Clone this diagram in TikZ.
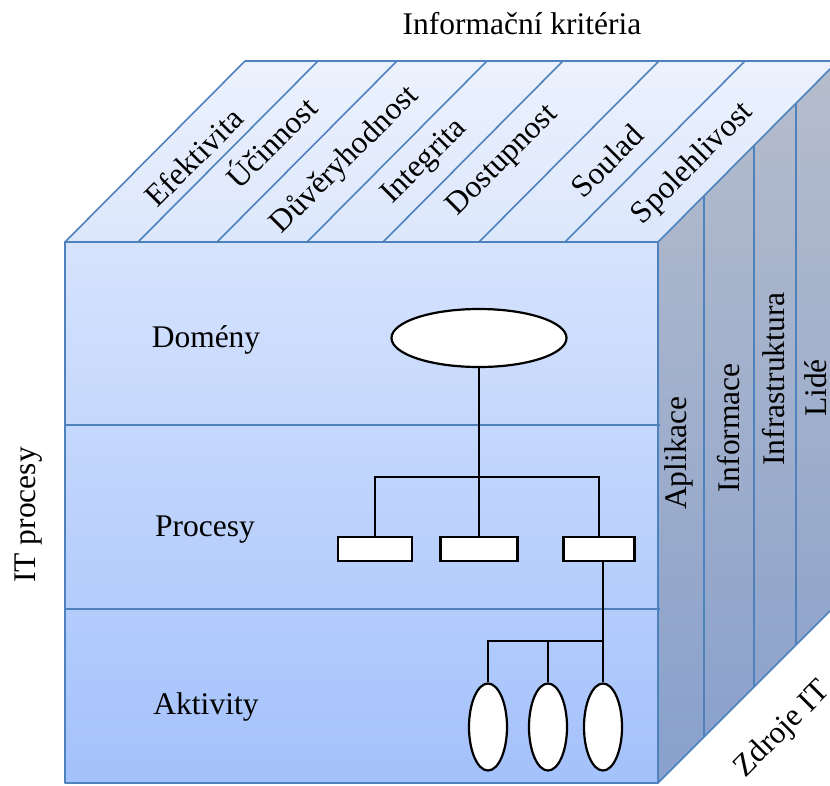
\documentclass[tikz,border=0pt]{standalone}
\usepackage{fontspec}
\setmainfont{Liberation Serif}
\usetikzlibrary{shapes.geometric}

\definecolor{edgeblue}{RGB}{79,129,189}
\definecolor{fronttop}{RGB}{214,227,253}
\definecolor{frontbot}{RGB}{163,193,251}
\definecolor{sidetop}{RGB}{182,189,204}
\definecolor{sidebot}{RGB}{136,160,204}
\definecolor{lidtop}{RGB}{236,242,253}
\definecolor{lidbot}{RGB}{220,231,252}

\tikzset{
	face/.style = {draw=edgeblue, line width=1.6pt, line join=round},
	divider/.style = {draw=edgeblue, line width=1.6pt},
	lbl/.style = {inner sep=0pt, font=\fontsize{31.5}{36}\selectfont},
	leaf/.style = {draw, line width=2.2pt, fill=white},
	link/.style = {draw, line width=1.8pt}
}

\begin{document}
\begin{tikzpicture}[x=1pt,y=-1pt]
\useasboundingbox (0,0) rectangle (830,785);
\clip (0,0) rectangle (830,785);
%
	% faces of the cube
	\fill[top color=fronttop, bottom color=frontbot] (65,242) rectangle (658,783);
	\fill[top color=lidtop, bottom color=lidbot] (65,242) -- (245,61) -- (838,61) -- (658,242) -- cycle;
	\fill[top color=sidetop, bottom color=sidebot] (658,242) -- (838,61) -- (838,603) -- (658,783) -- cycle;
	\draw[face] (65,242) rectangle (658,783);
	\draw[face] (65,242) -- (245,61) -- (838,61) -- (658,242);
	\draw[face] (838,61) -- (838,603) -- (658,783);
%
	% layers on the front
	\draw[divider] (65,425) -- (660,425);
	\draw[divider] (65,609) -- (660,609);
%
	% strips on the top
	\foreach \xb in {138,217,307,383,479,565}
		\draw[divider] (\xb,242) -- (\xb+180,61);
%
	% strips on the side
	\draw[divider] (704,196) -- (704,737);
	\draw[divider] (754,146) -- (754,687);
	\draw[divider] (796,104) -- (796,645);
%
	\node[lbl] (title) at (522,24) {Informační kritéria};
	\node[lbl, rotate=45] (efe) at (194,157) {Efektivita};
	\node[lbl, rotate=45] (uci) at (270,141) {Účinnost};
	\node[lbl, rotate=45] (duv) at (345,160) {Důvěryhodnost};
	\node[lbl, rotate=45] (int) at (425,162) {Integrita};
	\node[lbl, rotate=45] (dos) at (503,161) {Dostupnost};
	\node[lbl, rotate=45] (sou) at (607,161) {Soulad};
	\node[lbl, rotate=45] (spo) at (693,164) {Spolehlivost};
%
	\node[lbl, rotate=90] (apl) at (679,453) {Aplikace};
	\node[lbl, rotate=90] (inf) at (729,428) {Informace};
	\node[lbl, rotate=90] (ifs) at (774,379) {Infrastruktura};
	\node[lbl, rotate=90] (lid) at (816,388) {Lidé};
	\node[lbl, rotate=45] (zdr) at (783,730) {Zdroje IT};
	\node[lbl, rotate=90] (itp) at (29,515) {IT procesy};
%
	\node[lbl] (ldom) at (206,340) {Domény};
	\node[lbl] (lpro) at (205,530) {Procesy};
	\node[lbl] (lakt) at (206,707) {Aktivity};
%
	% hierarchy
	\node[leaf, ellipse, minimum width=175pt, minimum height=58pt] (dom) at (479,338) {};
	\node[leaf, rectangle, minimum width=74pt, minimum height=24pt] (p1) at (375,549) {};
	\node[leaf, rectangle, minimum width=77pt, minimum height=24pt] (p2) at (479,549) {};
	\node[leaf, rectangle, minimum width=71pt, minimum height=24pt] (p3) at (599,549) {};
	\node[leaf, ellipse, minimum width=38pt, minimum height=87pt] (a1) at (488,727) {};
	\node[leaf, ellipse, minimum width=38pt, minimum height=87pt] (a2) at (548,727) {};
	\node[leaf, ellipse, minimum width=38pt, minimum height=87pt] (a3) at (603,727) {};
	\coordinate (pbus) at (479,477);
	\coordinate (abus) at (603,641);
%
	\draw[link] (dom) -- (p2);
	\draw[link] (p1.north) |- (pbus) -| (p3.north);
	\draw[link] (p3.south -| a3.north) -- (a3);
	\draw[link] (a1.north) |- (abus);
	\draw[link] (a2.north) -- (a2.north |- abus);
\end{tikzpicture}
\end{document}
